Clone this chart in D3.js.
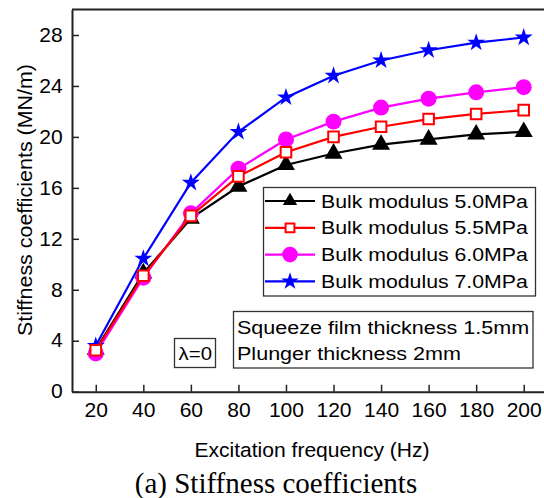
<!DOCTYPE html>
<html>
<head>
<meta charset="utf-8">
<script src="https://cdn.jsdelivr.net/npm/d3@7"></script>
<style>
  body { margin: 0; background: #fff; }
  text { font-family: "Liberation Sans", Arial, sans-serif; fill: #000; }
  text.caption { font-family: "Liberation Serif", "Times New Roman", serif; }
</style>
</head>
<body>
<script>
// data
const freq = [20, 40, 60, 80, 100, 120, 140, 160, 180, 200]
const k50 = [3.3, 9.3, 13.6, 16.1, 17.8, 18.7, 19.4, 19.8, 20.2, 20.4]
const k55 = [3.25, 9.1, 13.8, 16.9, 18.8, 20.0, 20.8, 21.4, 21.8, 22.1]
const k60 = [3.0, 8.95, 14.0, 17.5, 19.8, 21.2, 22.3, 23.0, 23.5, 23.9]
const k70 = [3.6, 10.45, 16.4, 20.4, 23.1, 24.8, 26.0, 26.8, 27.4, 27.8]
const seriesNames = ["Bulk modulus 5.0MPa", "Bulk modulus 5.5MPa", "Bulk modulus 6.0MPa", "Bulk modulus 7.0MPa"]
const xTicks = [20, 40, 60, 80, 100, 120, 140, 160, 180, 200]
const yTicks = [0, 4, 8, 12, 16, 20, 24, 28]

let width = 544
let height = 498

const series = [
  { name: seriesNames[0], values: k50, color: "#000000", shape: d3.symbolTriangle, size: 140, legSize: 88, fill: "#000000" },
  { name: seriesNames[1], values: k55, color: "#ff0000", shape: d3.symbolSquare, size: 112, legSize: 78, fill: "#ffffff" },
  { name: seriesNames[2], values: k60, color: "#ff00ff", shape: d3.symbolCircle, size: 200, legSize: 190, fill: "#ff00ff" },
  { name: seriesNames[3], values: k70, color: "#0000ff", shape: d3.symbolStar, size: 100, legSize: 95, fill: "#0000ff" }
]

const svg = d3.select("body")
  .append("svg")
  .attr("width", width)
  .attr("height", height)

var x = d3.scaleLinear().domain([10, 210]).range([72, 547.5])
var y = d3.scaleLinear().domain([0, 30]).range([391.7, 9.5])

// frame (top) — right side runs off the picture
svg.append("line")
  .attr("x1", 72).attr("x2", width)
  .attr("y1", y(30)).attr("y2", y(30))
  .attr("stroke", "#222").attr("stroke-width", 2)

// axes
const xAxis = svg.append("g")
  .attr("transform", `translate(0,${y(0)})`)
  .call(d3.axisBottom(x).tickValues(xTicks).tickSizeInner(-7).tickSizeOuter(0).tickPadding(11))
const yAxis = svg.append("g")
  .attr("transform", `translate(${x(10)},0)`)
  .call(d3.axisLeft(y).tickValues(yTicks).tickSizeInner(-7).tickSizeOuter(0).tickPadding(8.6))

for (const ax of [xAxis, yAxis]) {
  ax.select(".domain").attr("stroke", "#222").attr("stroke-width", 2)
  ax.selectAll(".tick line").attr("stroke", "#222").attr("stroke-width", 1.5)
  ax.selectAll(".tick text")
    .attr("font-size", 19.5)
    .attr("fill", "#000")
    .attr("transform", "scale(1.08,1)")
}

// lines and markers
const line = d3.line()
  .x((d, i) => x(freq[i]))
  .y(d => y(d))

const drawOrder = [0, 2, 3, 1]
drawOrder.forEach(function (si) {
  const s = series[si]
  svg.append("path")
    .datum(s.values)
    .attr("d", line)
    .attr("fill", "none")
    .attr("stroke", s.color)
    .attr("stroke-width", 2.2)

  svg.append("g")
    .selectAll("path")
    .data(s.values)
    .join("path")
    .attr("transform", (d, i) => `translate(${x(freq[i])},${y(d)})`)
    .attr("d", d3.symbol().type(s.shape).size(s.size))
    .attr("fill", s.fill)
    .attr("stroke", s.color)
    .attr("stroke-width", s.fill == "#ffffff" ? 2 : 0)
})

// legend
const leg = svg.append("g")
leg.append("rect")
  .attr("x", 263.5).attr("y", 187.5)
  .attr("width", 272).attr("height", 108.5)
  .attr("fill", "#fff").attr("stroke", "#333").attr("stroke-width", 1.3)

series.forEach(function (s, i) {
  const ly = 201 + i * 26.8
  leg.append("line")
    .attr("x1", 265).attr("x2", 315)
    .attr("y1", ly).attr("y2", ly)
    .attr("stroke", s.color).attr("stroke-width", 2.2)
  leg.append("path")
    .attr("transform", `translate(290,${ly})`)
    .attr("d", d3.symbol().type(s.shape).size(s.legSize))
    .attr("fill", s.fill)
    .attr("stroke", s.color)
    .attr("stroke-width", s.fill == "#ffffff" ? 2 : 0)
  leg.append("text")
    .attr("transform", `translate(321,${ly + 6.6}) scale(1.15,1)`)
    .attr("font-size", 18.5)
    .text(s.name)
})

// note boxes
svg.append("rect")
  .attr("x", 233.5).attr("y", 311.5)
  .attr("width", 299.5).attr("height", 56.5)
  .attr("fill", "#fff").attr("stroke", "#333").attr("stroke-width", 1.3)
svg.append("text")
  .attr("transform", "translate(237,333.5) scale(1.165,1)")
  .attr("font-size", 18.5)
  .text("Squeeze film thickness 1.5mm")
svg.append("text")
  .attr("transform", "translate(237,360) scale(1.165,1)")
  .attr("font-size", 18.5)
  .text("Plunger thickness 2mm")

svg.append("rect")
  .attr("x", 174.5).attr("y", 338.5)
  .attr("width", 41).attr("height", 29)
  .attr("fill", "#fff").attr("stroke", "#333").attr("stroke-width", 1.3)
svg.append("text")
  .attr("transform", "translate(195.3,360) scale(1.1,1)")
  .attr("text-anchor", "middle")
  .attr("font-size", 18.5)
  .text("λ=0")

// axis titles
svg.append("text")
  .attr("transform", "translate(312,456.5) scale(1.08,1)")
  .attr("text-anchor", "middle")
  .attr("font-size", 19.5)
  .text("Excitation frequency (Hz)")

svg.append("text")
  .attr("transform", "translate(31.5,200) rotate(-90) scale(1.1,1)")
  .attr("text-anchor", "middle")
  .attr("font-size", 19.5)
  .text("Stiffness coefficients (MN/m)")

// caption
svg.append("text")
  .attr("class", "caption")
  .attr("transform", "translate(276,493)")
  .attr("text-anchor", "middle")
  .attr("font-size", 29)
  .text("(a) Stiffness coefficients")
</script>
</body>
</html>
